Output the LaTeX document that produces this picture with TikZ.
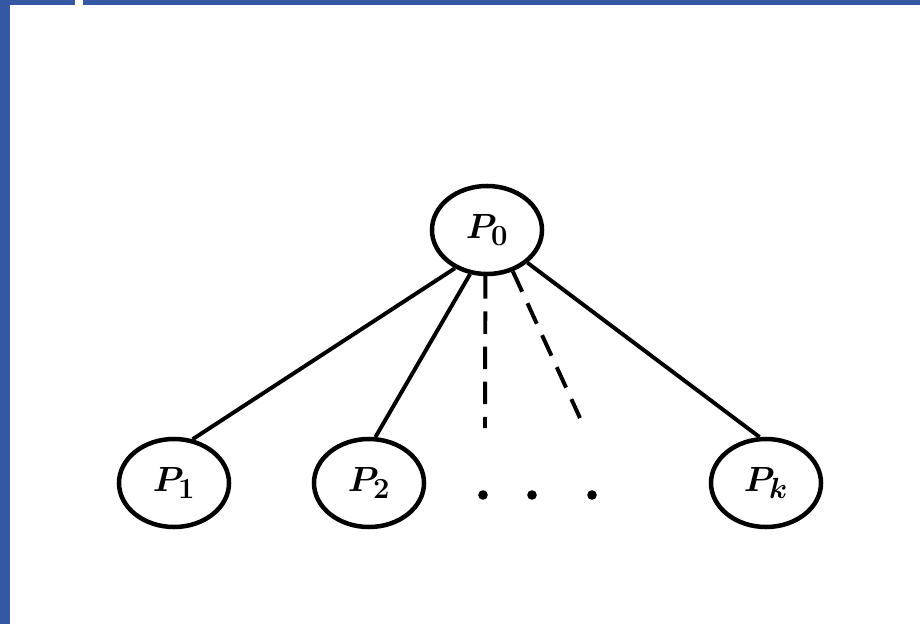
\documentclass[tikz,border=0pt]{standalone}
\usepackage{tikz}
\usepackage{amsmath}
\usetikzlibrary{shapes.geometric}
\definecolor{slidebar}{HTML}{3558A5}

\tikzset{
  proc/.style={draw, ellipse, line width=3.2pt, minimum width=2.75cm, minimum height=2.2cm, inner sep=0pt, font=\fontsize{32}{38}\selectfont\boldmath},
  link/.style={line width=2.8pt},
  dashlink/.style={line width=2.8pt, dash pattern=on 16pt off 9pt},
  dotmark/.style={circle, fill, inner sep=0pt, minimum size=0.24cm}
}

\begin{document}
\begin{tikzpicture}[x=0.025cm, y=-0.025cm]
\useasboundingbox (0,0) rectangle (920,624);
% slide frame
\fill[slidebar] (0,0) rectangle (10,624);
\fill[slidebar] (0,0) rectangle (75,5);
\fill[slidebar] (83,0) rectangle (920,5);

% processes
\node[proc] (p0) at (487,230) {$P_0$};
\node[proc] (p1) at (174,483) {$P_1$};
\node[proc] (p2) at (369,483) {$P_2$};
\node[proc] (pk) at (766,483) {$P_k$};

% ellipsis
\node[dotmark] (d1) at (483,495) {};
\node[dotmark] (d2) at (532,495) {};
\node[dotmark] (d3) at (592,495) {};

\coordinate (e1) at (485,428);
\coordinate (e2) at (580,418);

\draw[link] (p0.230) -- (p1.67);
\draw[link] (p0.249) -- (p2.82);
\draw[link] (p0.321) -- (pk.98);
\draw[dashlink] (p0.268) -- (e1);
\draw[dashlink] (p0.302) -- (e2);
\end{tikzpicture}
\end{document}
